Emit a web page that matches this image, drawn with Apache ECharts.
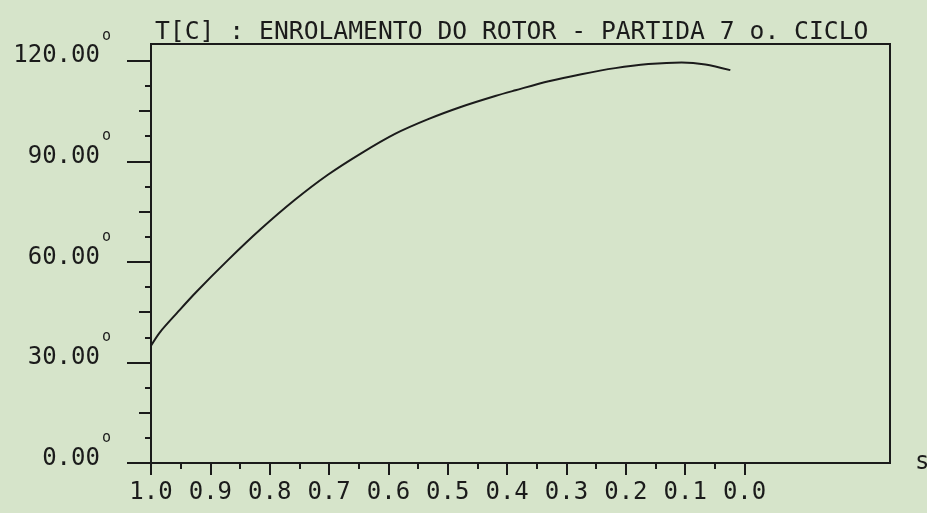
<!DOCTYPE html>
<html>
<head>
<meta charset="utf-8">
<script src="https://cdn.jsdelivr.net/npm/echarts@6/dist/echarts.min.js"></script>
<style>
  body { margin: 0; background: #d6e4ca; }
  #main { width: 927px; height: 513px; }
</style>
</head>
<body>
<div id="main"></div>
<script>
// curva: escorregamento s x temperatura [C]
const sValues = [1.0, 0.985, 0.955, 0.925, 0.87, 0.815, 0.757, 0.702, 0.646, 0.589, 0.533, 0.477, 0.42, 0.386, 0.33, 0.275, 0.218, 0.162, 0.106, 0.066, 0.024];
const tempValues = [35.0, 39.0, 45.0, 50.8, 60.6, 69.8, 78.6, 86.0, 92.4, 98.2, 102.6, 106.3, 109.5, 111.2, 113.9, 116.0, 117.8, 119.0, 119.5, 118.9, 117.2];

const xTicks = [1.0, 0.9, 0.8, 0.7, 0.6, 0.5, 0.4, 0.3, 0.2, 0.1, 0.0];
const xMinorTicks = [0.95, 0.85, 0.75, 0.65, 0.55, 0.45, 0.35, 0.25, 0.15, 0.05];
const yTicks = [0, 30, 60, 90, 120];
const yMidTicks = [15, 45, 75, 105];
const yMinorTicks = [7.5, 22.5, 37.5, 52.5, 67.5, 82.5, 97.5, 112.5];

const titleText = 'T[C] : ENROLAMENTO DO ROTOR - PARTIDA 7 o. CICLO';
const xName = 's';

const ink = '#1b1b1b';
const mono = '"DejaVu Sans Mono", monospace';

const chart = echarts.init(document.getElementById('main'));

function xAxisDef(ticks, len, withLine) {
  return {
    type: 'value', inverse: true, min: -0.245, max: 1.0, position: 'bottom',
    name: withLine ? xName : '', nameLocation: 'start', nameGap: 25,
    nameTextStyle: { fontFamily: mono, fontSize: 24, color: ink, verticalAlign: 'middle', padding: [0, 0, 8, 0] },
    axisLine: { show: withLine, onZero: false, lineStyle: { color: ink, width: 2 } },
    axisTick: { show: true, customValues: ticks, length: len, lineStyle: { color: ink, width: 2 } },
    axisLabel: withLine ? {
      customValues: ticks, margin: 18, fontFamily: mono, fontSize: 24, color: ink,
      formatter: v => v.toFixed(1)
    } : { show: false },
    splitLine: { show: false }
  };
}

function yAxisDef(ticks, len, withLine) {
  return {
    type: 'value', min: 0, max: 125, position: 'left', offset: 0,
    axisLine: { show: withLine, onZero: false, lineStyle: { color: ink, width: 2 } },
    axisTick: { show: true, customValues: ticks, length: len, lineStyle: { color: ink, width: 2 } },
    axisLabel: withLine ? {
      customValues: ticks, margin: 40, color: ink,
      padding: [0, 0, 9, 0],
      formatter: v => '{v|' + v.toFixed(2) + '}{d|o}',
      rich: {
        v: { fontFamily: mono, fontSize: 24, lineHeight: 24, color: ink, verticalAlign: 'bottom' },
        d: { fontFamily: mono, fontSize: 15, lineHeight: 15, color: ink, verticalAlign: 'bottom', padding: [0, 0, 25, 2] }
      }
    } : { show: false },
    splitLine: { show: false }
  };
}

const option = {
  backgroundColor: '#d6e4ca',
  animation: false,
  title: {
    text: titleText, left: 150, top: 15,
    textStyle: { fontFamily: mono, fontSize: 24.7, fontWeight: 'normal', color: ink }
  },
  grid: {
    left: 151, right: 37, top: 44, bottom: 50,
    containLabel: false, outerBoundsMode: 'none',
    show: true, borderColor: ink, borderWidth: 2, backgroundColor: 'transparent'
  },
  xAxis: [
    xAxisDef(xTicks, 12, true),
    xAxisDef(xMinorTicks, 6, false)
  ],
  yAxis: [
    yAxisDef(yTicks, 24, true),
    yAxisDef(yMidTicks, 12, false),
    yAxisDef(yMinorTicks, 6, false)
  ],
  series: [{
    type: 'line',
    xAxisIndex: 0, yAxisIndex: 0,
    data: sValues.map((s, i) => [s, tempValues[i]]),
    showSymbol: false,
    smooth: 0.3,
    lineStyle: { color: ink, width: 2 }
  }]
};

chart.setOption(option);
</script>
</body>
</html>
